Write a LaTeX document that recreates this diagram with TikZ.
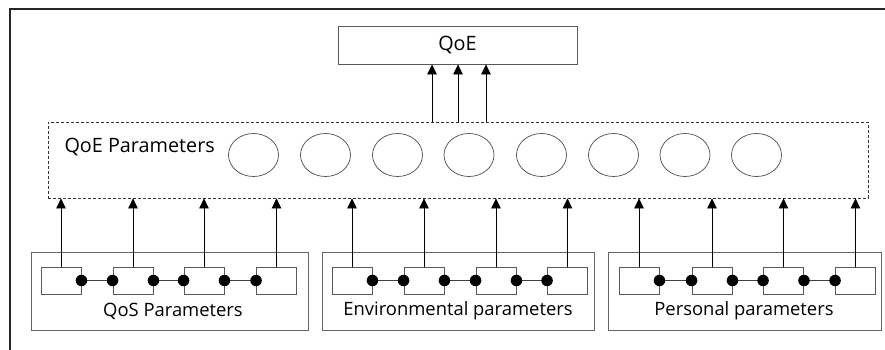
\documentclass[tikz,border=0pt]{standalone}
\usepackage{fontspec}
\setmainfont{Open Sans}
\usetikzlibrary{arrows.meta,shapes.geometric}
\begin{document}
\begin{tikzpicture}[x=1pt,y=-1pt,
  frame/.style={draw=black!85,line width=1.1pt},
  bigbox/.style={draw=black!65,line width=0.9pt,minimum height=38pt,inner sep=0pt},
  dashbox/.style={draw=black!80,line width=0.8pt,dash pattern=on 3pt off 2pt,inner sep=0pt},
  grpbox/.style={draw=black!60,line width=0.9pt,inner sep=0pt},
  sbox/.style={draw=black!65,line width=0.9pt,minimum width=40pt,minimum height=27pt,inner sep=0pt},
  param/.style={draw=black!70,line width=0.7pt,ellipse,minimum width=50pt,minimum height=43pt,inner sep=0pt},
  dot/.style={circle,fill=black,minimum size=11.5pt,inner sep=0pt},
  arr/.style={draw=black,line width=0.8pt,-{Triangle[width=9.5pt,length=10pt]}},
  conn/.style={draw=black!75,line width=0.8pt},
  lbl/.style={font=\fontsize{18.4}{20}\selectfont,text=black},
  biglbl/.style={font=\fontsize{19.8}{22}\selectfont,text=black}]
\useasboundingbox (0,0) rectangle (885,350);
% outer frame
\draw[frame] (10,350) -- (10,9) -- (885,9);
% QoE box
\node[bigbox,minimum width=239pt,biglbl] (Q) at (457.5,45) {QoE};
% dashed box
\node[dashbox,minimum width=820pt,minimum height=76pt] (P) at (458,160) {};
\node[biglbl,anchor=west] (Pl) at (61,147) {QoE Parameters};
\foreach \i/\x in {1/253.5,2/325.5,3/397.5,4/469,5/541.5,6/613.5,7/685,8/756.5}
  \node[param] (e\i) at (\x,155) {};
% arrows to QoE
\foreach \i/\x in {1/432,2/458,3/486} {
  \coordinate (t\i) at (\x,122);
  \draw[arr] (t\i) -- (t\i |- Q.south);
}
% group boxes
\node[grpbox,minimum width=277pt,minimum height=78pt] (G1) at (169.5,291) {};
\node[grpbox,minimum width=272pt,minimum height=78pt] (G2) at (458,291) {};
\node[grpbox,minimum width=273pt,minimum height=78pt] (G3) at (744.5,291) {};
\node[lbl] (L1) at (173,311) {QoS Parameters};
\node[lbl] (L2) at (458,311) {Environmental parameters};
\node[lbl] (L3) at (744,311) {Personal parameters};
% small boxes
\foreach \g/\a/\b/\c/\d in {q/61/133/204/276.5, v/352/424/496/567.5, p/639/712/783.5/855.5} {
  \node[sbox] (\g1) at (\a,280.5) {};
  \node[sbox] (\g2) at (\b,280.5) {};
  \node[sbox] (\g3) at (\c,280.5) {};
  \node[sbox] (\g4) at (\d,280.5) {};
  \draw[conn] (\g1.east) -- (\g2.west);
  \draw[conn] (\g2.east) -- (\g3.west);
  \draw[conn] (\g3.east) -- (\g4.west);
  \node[dot] (\g1r) at (\g1.east) {};
  \node[dot] (\g2l) at (\g2.west) {};
  \node[dot] (\g2r) at (\g2.east) {};
  \node[dot] (\g3l) at (\g3.west) {};
  \node[dot] (\g3r) at (\g3.east) {};
  \node[dot] (\g4l) at (\g4.west) {};
  \foreach \k in {1,2,3,4}
    \draw[arr] (\g\k.north) -- (\g\k.north |- P.south);
}
\end{tikzpicture}
\end{document}
